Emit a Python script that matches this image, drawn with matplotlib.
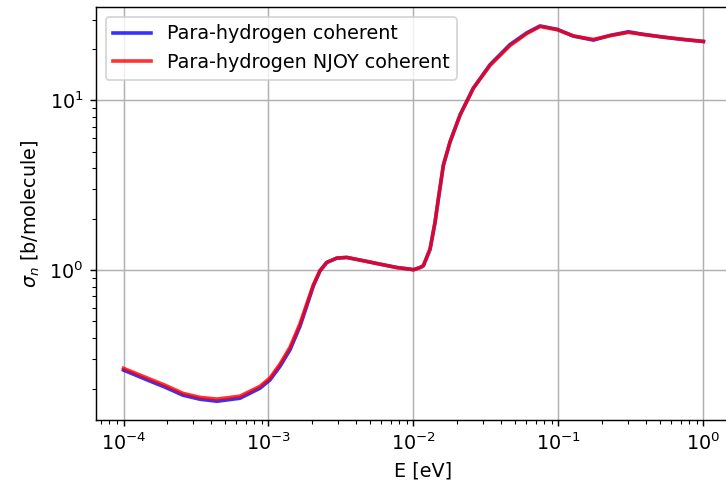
import numpy as np
import matplotlib
matplotlib.use("Agg")
import matplotlib.pyplot as plt

# energy grid [eV]
energy = [1.0e-4, 1.524e-4, 1.933e-4, 2.573e-4, 3.372e-4, 4.417e-4, 6.364e-4, 8.745e-4,
          1.025e-3, 1.201e-3, 1.409e-3, 1.651e-3, 1.836e-3, 2.039e-3, 2.268e-3, 2.523e-3,
          2.957e-3, 3.465e-3, 4.512e-3, 5.884e-3, 7.668e-3, 9.475e-3, 9.98e-3,
          1.110e-2, 1.170e-2, 1.302e-2, 1.409e-2, 1.485e-2, 1.608e-2, 1.789e-2,
          2.097e-2, 2.589e-2, 3.377e-2, 4.639e-2, 6.047e-2, 7.46e-2, 9.835e-2,
          0.1268, 0.1742, 0.2271, 0.3039, 0.3855, 0.5297, 0.7278, 1.0]

# cross sections [b/molecule]
sigma_coh = [0.2578, 0.2220, 0.2045, 0.1833, 0.1736, 0.1689, 0.1760, 0.2017,
             0.2259, 0.2713, 0.3402, 0.4683, 0.6152, 0.8083, 0.9918, 1.111,
             1.178, 1.189, 1.137, 1.085, 1.037, 1.014, 1.006,
             1.037, 1.062, 1.332, 1.918, 2.636, 4.157, 5.715,
             8.227, 11.83, 16.28, 21.39, 25.05, 27.5, 26.25,
             23.96, 22.69, 24.18, 25.41, 24.52, 23.63, 22.89, 22.28]

sigma_njoy = [0.264, 0.228, 0.210, 0.188, 0.178, 0.174, 0.181, 0.207,
              0.232, 0.280, 0.352, 0.485, 0.632, 0.820, 0.995, 1.111,
              1.178, 1.189, 1.137, 1.085, 1.037, 1.014, 1.006,
              1.037, 1.062, 1.332, 1.918, 2.636, 4.157, 5.715,
              8.227, 11.83, 16.1, 21.1, 24.8, 27.3, 26.1,
              24.0, 22.9, 24.1, 25.2, 24.5, 23.63, 22.89, 22.28]

plt.rcParams["font.size"] = 10.6

fig = plt.figure(figsize=(726 / 130, 488 / 130), dpi=130)
# right spine falls outside the picture, as in the original (cropped) figure
ax = fig.add_axes([0.1322, 0.1393, 0.9, 0.846])

ax.loglog(energy, sigma_coh, color="b", alpha=0.8, lw=2, label="Para-hydrogen coherent")
ax.loglog(energy, sigma_njoy, color="r", alpha=0.8, lw=2, label="Para-hydrogen NJOY coherent")

ax.set_xlim(10 ** -4.19, 10 ** 0.317)
ax.set_xlabel("E [eV]")
ax.set_ylabel(r"$\sigma_n$ [b/molecule]")
ax.grid(True, which="major")
ax.legend(loc="upper left")

fig.savefig("out.png", dpi=130)
